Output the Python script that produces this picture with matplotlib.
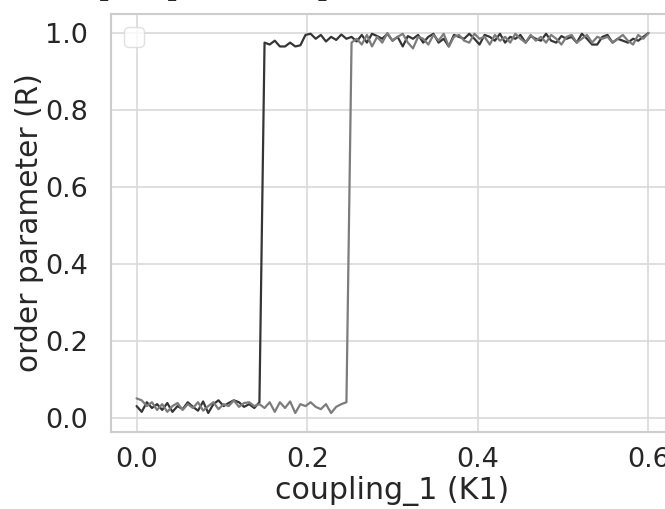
import numpy as np
import matplotlib
matplotlib.use("Agg")
import matplotlib.pyplot as plt
import seaborn as sns

# coupling sweep: 101 values of K1 between 0 and 0.6
k1_start, k1_stop, n_steps = 0.0, 0.6, 101

# order parameter R, first run (transition near K1 = 0.15)
r_run_a = [
    0.030, 0.015, 0.040, 0.025, 0.035, 0.020, 0.038, 0.015, 0.030, 0.022,
    0.040, 0.028, 0.018, 0.042, 0.012, 0.035, 0.045, 0.030, 0.038, 0.045,
    0.040, 0.028, 0.035, 0.025, 0.040,
    0.975, 0.970, 0.980, 0.965, 0.965, 0.975, 0.965, 0.968, 0.995, 0.998,
    0.985, 0.995, 0.978, 0.990, 0.982, 0.996, 0.985, 0.990, 0.978, 0.995,
    0.975, 0.998, 0.992, 0.985, 0.998, 0.980, 0.990, 0.965, 0.992, 0.985,
    0.995, 0.975, 0.990, 0.998, 0.975, 0.985, 0.965, 0.995, 0.990, 0.985,
    0.998, 0.985, 0.970, 0.995, 0.990, 0.980, 0.998, 0.975, 0.990, 0.985,
    0.995, 0.975, 0.992, 0.985, 0.980, 0.998, 0.980, 0.975, 0.992, 0.985,
    0.990, 0.975, 0.998, 0.985, 0.970,
    0.970, 0.990, 0.995, 0.975, 0.985, 0.980, 0.975, 0.985, 0.980, 0.990,
    1.000,
]

# order parameter R, second run (transition near K1 = 0.25)
r_run_b = [
    0.050, 0.045, 0.030, 0.040, 0.020, 0.035, 0.015, 0.030, 0.038, 0.020,
    0.035, 0.025, 0.040, 0.018, 0.030, 0.040, 0.022, 0.035, 0.030, 0.045,
    0.028, 0.038, 0.040, 0.030, 0.035, 0.025, 0.040, 0.015, 0.040, 0.025,
    0.042, 0.012, 0.035, 0.030, 0.040, 0.028, 0.022, 0.035, 0.012, 0.028,
    0.035, 0.040,
    0.975, 0.985, 0.970, 0.995, 0.965, 0.990, 0.975, 1.000, 0.980, 0.990,
    0.998, 0.975, 0.960, 0.990, 0.985, 0.970, 0.995, 0.980, 0.998, 0.965,
    0.990, 0.995, 0.980, 0.975, 0.998, 0.985, 0.990, 0.970, 0.995, 0.980,
    0.990, 0.975, 0.998, 0.985, 0.975, 0.995, 0.980, 0.990, 0.975, 0.995,
    0.985, 0.970, 0.990, 0.995, 0.975, 0.985, 0.995, 0.975, 0.990, 0.985,
    0.990, 0.975, 0.985, 0.995, 0.980, 0.970, 0.995, 0.985, 1.000,
]

x_ticks = [0.0, 0.2, 0.4, 0.6]
y_ticks = [0.0, 0.2, 0.4, 0.6, 0.8, 1.0]

title_lead = "Kuramoto model: e"
title_text = "Kuramoto model: equal phase map"

k1 = np.linspace(k1_start, k1_stop, n_steps)

sns.set_theme(style="whitegrid")
plt.rcParams["font.family"] = ["DejaVu Sans"]

fig = plt.figure(figsize=(6.65, 5.09), dpi=100)
W, H = 665, 509
left, right, top, bottom = 111, 674, 14, 432
ax = fig.add_axes([left / W, 1 - bottom / H, (right - left) / W, (bottom - top) / H])

ax.plot(k1, r_run_a, color="#353535", lw=1.6)
ax.plot(k1, r_run_b, color="#7c7c7c", lw=1.6)

ax.set_xticks(x_ticks)
ax.set_yticks(y_ticks)
ax.set_xticklabels([f"{v:.1f}" for v in x_ticks])
ax.set_yticklabels([f"{v:.1f}" for v in y_ticks])
ax.tick_params(labelsize=19.5, colors="#262626")
ax.tick_params(axis="x", pad=5)
ax.tick_params(axis="y", pad=10.5)
ax.set_xlabel("coupling_1 (K1)", fontsize=21.6, color="#262626", labelpad=2)
ax.set_ylabel("order parameter (R)", fontsize=21.3, color="#262626", labelpad=1)
for s in ax.spines.values():
    s.set_color("#cccccc")
    s.set_linewidth(1.5)
ax.grid(color="#d9d9d9", lw=1.2)

leg = ax.legend(loc="upper left", fontsize=18)
leg.get_frame().set_edgecolor("#d9d9d9")

# title sits just above the top edge; its "q" starts near x = 89 px
title_kw = dict(fontsize=22.3, family="DejaVu Serif", va="baseline", ha="left",
                color="#262626")
renderer = fig.canvas.get_renderer()
probe = fig.text(0, 0, title_lead, **title_kw)
lead_w = probe.get_window_extent(renderer).width
probe.remove()
x0 = 89 - lead_w
fig.text(x0 / W, 1 + 6 / H, title_text, **title_kw)

fig.savefig("out.png", dpi=100)
